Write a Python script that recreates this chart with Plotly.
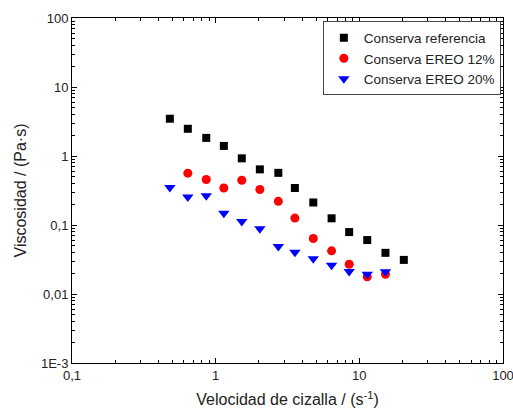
import plotly.graph_objects as go

# Shear rate (s^-1)
shear_ref = [0.48, 0.64, 0.86, 1.14, 1.52, 2.03, 2.73, 3.56, 4.78, 6.41, 8.5, 11.35, 15.2, 20.4]
visc_ref = [3.47, 2.48, 1.83, 1.40, 0.925, 0.64, 0.57, 0.344, 0.212, 0.125, 0.079, 0.0605, 0.0395, 0.0312]

shear_12 = [0.64, 0.86, 1.14, 1.52, 2.03, 2.73, 3.56, 4.78, 6.41, 8.5, 11.35, 15.2]
visc_12 = [0.564, 0.456, 0.344, 0.446, 0.327, 0.22, 0.126, 0.0637, 0.0422, 0.027, 0.0178, 0.0193]

shear_20 = [0.48, 0.64, 0.86, 1.14, 1.52, 2.03, 2.73, 3.56, 4.78, 6.41, 8.5, 11.35, 15.2]
visc_20 = [0.349, 0.254, 0.266, 0.148, 0.112, 0.0886, 0.0489, 0.0402, 0.0323, 0.0261, 0.0212, 0.0193, 0.021]

x_tickvals = [0.1, 1, 10, 100]
x_ticktext = ["0,1", "1", "10", "100"]
y_tickvals = [0.001, 0.01, 0.1, 1, 10, 100]
y_ticktext = ["1E-3", "0,01", "0,1", "1", "10", "100"]


def minor_vals(decades):
    return [m * 10 ** d for d in decades for m in range(2, 10)]


FONT = "Liberation Sans, Arial, sans-serif"
XR = [-1, 2]
YR = [-3, 2]

fig = go.Figure()
fig.add_trace(go.Scatter(x=shear_ref, y=visc_ref, mode="markers", name="Conserva referencia",
                         marker=dict(symbol="square", size=8, color="black")))
fig.add_trace(go.Scatter(x=shear_12, y=visc_12, mode="markers", name="Conserva EREO 12%",
                         marker=dict(symbol="circle", size=9, color="#ff0000")))
fig.add_trace(go.Scatter(x=shear_20, y=visc_20, mode="markers", name="Conserva EREO 20%",
                         marker=dict(symbol="triangle-down", size=10, color="#0000ff")))
# empty trace so the minor-tick overlay axes are drawn
fig.add_trace(go.Scatter(x=[], y=[], xaxis="x2", yaxis="y2", showlegend=False,
                         hoverinfo="skip", mode="markers"))

fig.update_layout(
    template="none",
    xaxis=dict(type="log", range=XR, showline=True, linecolor="black", linewidth=1,
               mirror="ticks", ticks="inside", ticklen=5, tickwidth=1, tickcolor="black",
               showgrid=False, zeroline=False, automargin=False, ticklabeloverflow="allow",
               tickmode="array", tickvals=x_tickvals, ticktext=x_ticktext,
               tickfont=dict(family=FONT, size=13, color="#222"),
               title=dict(text="Velocidad de cizalla / (s<sup>-1</sup>)",
                          font=dict(family=FONT, size=16, color="#222"), standoff=12)),
    yaxis=dict(type="log", range=YR, showline=True, linecolor="black", linewidth=1,
               mirror="ticks", ticks="inside", ticklen=5, tickwidth=1, tickcolor="black",
               showgrid=False, zeroline=False, automargin=False, ticklabeloverflow="allow",
               tickmode="array", tickvals=y_tickvals, ticktext=y_ticktext,
               tickfont=dict(family=FONT, size=13, color="#222"),
               title=dict(text="Viscosidad / (Pa·s)",
                          font=dict(family=FONT, size=16, color="#222"), standoff=10)),
    xaxis2=dict(type="log", range=XR, overlaying="x", side="bottom", anchor="y2",
                showline=False, mirror="allticks", ticks="inside", ticklen=3, tickcolor="black",
                showgrid=False, zeroline=False, automargin=False,
                tickmode="array", tickvals=minor_vals([-1, 0, 1]), showticklabels=False),
    yaxis2=dict(type="log", range=YR, overlaying="y", side="left", anchor="x2",
                showline=False, mirror="allticks", ticks="inside", ticklen=3, tickcolor="black",
                showgrid=False, zeroline=False, automargin=False,
                tickmode="array", tickvals=minor_vals([-3, -2, -1, 0, 1]), showticklabels=False),
    width=513, height=416,
    margin=dict(l=72, r=10, t=18, b=53),
    paper_bgcolor="white", plot_bgcolor="white",
    font=dict(family=FONT, size=13, color="#222"),
    showlegend=True,
    legend=dict(x=0.995, y=0.99, xanchor="right", yanchor="top",
                bordercolor="#444", borderwidth=1, bgcolor="white",
                font=dict(family=FONT, size=13.5, color="#222"),
                itemwidth=30, tracegroupgap=0),
)

fig.write_html("out.html", config={"displayModeBar": False},
               post_script="document.body.style.margin='0';document.body.style.padding='0';")
